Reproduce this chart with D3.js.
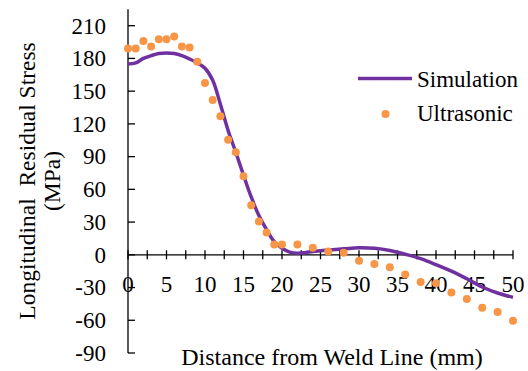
<!DOCTYPE html>
<html>
<head>
  <meta charset="utf-8">
  <script src="https://cdn.jsdelivr.net/npm/d3@7"></script>
  <style>
    body { margin: 0; background: #fff; }
  </style>
</head>
<body>
  <div class="chart"></div>
  <script>
    // simulation curve (mm, MPa)
    var simX = [0, 1, 2, 3, 4, 5, 6, 7, 8, 9, 10, 11, 12, 13, 14, 15, 16, 17, 18, 19, 20, 21, 22, 23, 24, 26, 28, 30, 32, 34, 36, 38, 40, 42, 44, 46, 48, 50];
    var simY = [175, 176, 180, 182.5, 184.5, 185, 184.5, 182.5, 179.5, 176, 171, 160, 138, 114, 94, 73, 53, 36, 23, 12, 6, 2.5, 1.5, 2, 3, 4.5, 5.5, 6.5, 6, 4, 0.5, -3.5, -9, -15, -22, -29.5, -35, -39];

    // ultrasonic measurements
    var usX = [0, 1, 2, 3, 4, 5, 6, 7, 8, 9, 10, 11, 12, 13, 14, 15, 16, 17, 18, 19, 20, 22, 24, 26, 28, 30, 32, 34, 36, 38, 40, 42, 44, 46, 48, 50];
    var usY = [189, 189, 196, 191, 197.5, 197.5, 200, 191, 190, 177, 157.5, 142, 127, 105.5, 94, 72, 45.5, 30.5, 20.5, 9.5, 9.5, 9.5, 6.5, 3, 2, -5.5, -8.5, -11.5, -18, -25, -26, -34.5, -40.5, -48.5, -52.5, -60.5];

    var yTicks = [-90, -60, -30, 0, 30, 60, 90, 120, 150, 180, 210];
    var xLabels = [0, 5, 10, 15, 20, 25, 30, 35, 40, 45, 50];
    var xMinor = d3.range(0, 50.01, 2.5);

    var width = 528, height = 371;
    var purple = "#7030a0", orange = "#f79646";
    var font = "'Times New Roman', 'Liberation Serif', 'DejaVu Serif', serif";

    var svg = d3.select(".chart").append("svg")
      .attr("width", width)
      .attr("height", height)
      .style("font-family", font);

    var x = d3.scaleLinear().domain([0, 50]).range([128, 513]);
    var y = d3.scaleLinear().domain([-90, 210]).range([353, 25.7]);

    // y axis: line plus inward ticks
    svg.append("line")
      .attr("x1", x(0)).attr("x2", x(0))
      .attr("y1", y(-90)).attr("y2", y(225))
      .style("stroke", "#000").style("stroke-width", 1.3);

    svg.selectAll(".ytick").data(yTicks).enter().append("line")
      .attr("class", "ytick")
      .attr("x1", x(0)).attr("x2", x(0) + 7)
      .attr("y1", function (d) { return y(d); })
      .attr("y2", function (d) { return y(d); })
      .style("stroke", "#000").style("stroke-width", 1.3);

    svg.selectAll(".ylab").data(yTicks).enter().append("text")
      .attr("class", "ylab")
      .attr("x", 106)
      .attr("y", function (d) { return y(d); })
      .attr("dy", "0.34em")
      .attr("text-anchor", "end")
      .style("font-family", font)
      .style("font-size", "23px")
      .text(function (d) { return d; });

    // x axis at zero, ticks crossing
    svg.append("line")
      .attr("x1", x(0)).attr("x2", x(50))
      .attr("y1", y(0)).attr("y2", y(0))
      .style("stroke", "#000").style("stroke-width", 1.3);

    svg.selectAll(".xtick").data(xMinor).enter().append("line")
      .attr("class", "xtick")
      .attr("x1", function (d) { return x(d); })
      .attr("x2", function (d) { return x(d); })
      .attr("y1", y(0) - 4.5).attr("y2", y(0) + 4.5)
      .style("stroke", "#000").style("stroke-width", 1.3);

    svg.selectAll(".xlab").data(xLabels).enter().append("text")
      .attr("class", "xlab")
      .attr("x", function (d) { return x(d); })
      .attr("y", 292)
      .attr("text-anchor", "middle")
      .style("font-family", font)
      .style("font-size", "23px")
      .text(function (d) { return d; });

    // simulation line
    var line = d3.line()
      .x(function (d) { return x(d[0]); })
      .y(function (d) { return y(d[1]); })
      .curve(d3.curveCatmullRom.alpha(0.5));

    svg.append("path")
      .datum(d3.zip(simX, simY))
      .attr("d", line)
      .style("fill", "none")
      .style("stroke", purple)
      .style("stroke-width", 3.5);

    // ultrasonic dots
    svg.selectAll(".dot").data(d3.zip(usX, usY)).enter().append("circle")
      .attr("class", "dot")
      .attr("cx", function (d) { return x(d[0]); })
      .attr("cy", function (d) { return y(d[1]); })
      .attr("r", 4)
      .style("fill", orange);

    // axis titles
    svg.append("text")
      .attr("x", 332)
      .attr("y", 365)
      .attr("text-anchor", "middle")
      .style("font-family", font)
      .style("font-size", "24px")
      .text("Distance from Weld Line (mm)");

    var yTitle = svg.append("text")
      .attr("transform", "translate(35,181) rotate(-90)")
      .attr("text-anchor", "middle")
      .style("font-family", font)
      .style("font-size", "23.5px");
    yTitle.append("tspan").attr("x", 0).attr("y", 0)
      .text("Longitudinal\u00a0 Residual Stress");
    yTitle.append("tspan").attr("x", 0).attr("y", 25).text("(MPa)");

    // legend
    var legend = svg.append("g");
    legend.append("line")
      .attr("x1", 358).attr("x2", 412)
      .attr("y1", 78.5).attr("y2", 78.5)
      .style("stroke", purple).style("stroke-width", 3.5);
    legend.append("text")
      .attr("x", 417).attr("y", 86.5)
      .style("font-family", font)
      .style("font-size", "23px")
      .text("Simulation");
    legend.append("circle")
      .attr("cx", 385.5).attr("cy", 114)
      .attr("r", 4)
      .style("fill", orange);
    legend.append("text")
      .attr("x", 417).attr("y", 121)
      .style("font-family", font)
      .style("font-size", "23px")
      .text("Ultrasonic");
  </script>
</body>
</html>
